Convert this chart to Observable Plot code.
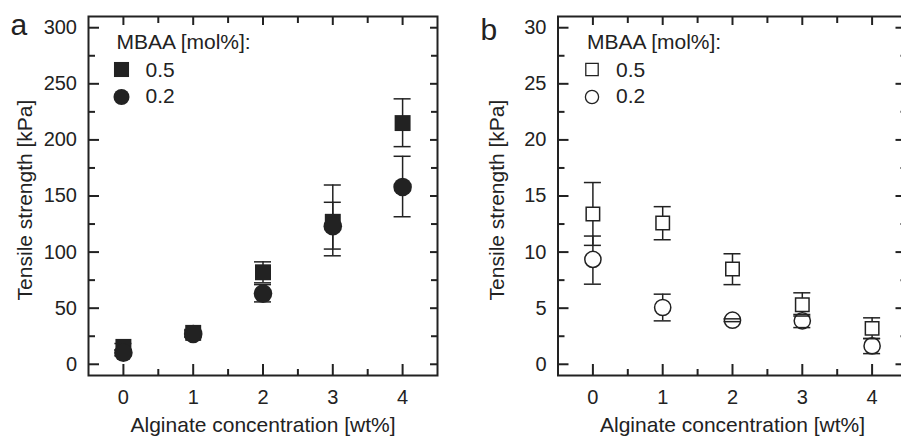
<!DOCTYPE html>
<html>
<head>
<meta charset="utf-8">
<script src="https://cdn.jsdelivr.net/npm/d3@7"></script>
<script src="https://cdn.jsdelivr.net/npm/@observablehq/plot@0.6"></script>
<style>
  html, body { margin: 0; padding: 0; background: #fff; }
  #wrap { position: relative; width: 901px; height: 440px; overflow: hidden; display: flex; flex-wrap: nowrap; }
  #wrap > div { flex: none; }
</style>
</head>
<body>
<div id="wrap"><div id="pa" style="width:450px"></div><div id="pb" style="width:460px"></div></div>
<script>
// ---- data ----
const conc = [0, 1, 2, 3, 4];
const seriesLabels = ["0.5", "0.2"];
const legendTitle = "MBAA [mol%]:";
const xTitle = "Alginate concentration [wt%]";
const yTitle = "Tensile strength [kPa]";

// panel a
const aSqY  = [15.5, 28, 82, 127, 215];
const aSqLo = [12.5, 25, 72.6, 96.7, 194];
const aSqHi = [18.5, 31, 91.3, 159.8, 236.6];
const aCiY  = [10.3, 27, 63, 123, 158];
const aCiLo = [7.5, 24, 55.6, 102.7, 131.5];
const aCiHi = [13, 30, 71, 144.4, 185.4];

// panel b
const bSqY  = [13.4, 12.6, 8.5, 5.3, 3.2];
const bSqLo = [10.6, 11.1, 7.1, 4.3, 2.3];
const bSqHi = [16.2, 14.05, 9.85, 6.37, 4.14];
const bCiY  = [9.35, 5.06, 3.93, 3.87, 1.64];
const bCiLo = [7.14, 3.87, 3.8, 3.27, 0.95];
const bCiHi = [11.43, 6.25, 4.05, 4.44, 2.29];

// tick labels
const xTicks = [0, 1, 2, 3, 4];
const xMinor = [0.5, 1.5, 2.5, 3.5];
const yTicksA = [0, 50, 100, 150, 200, 250, 300];
const yMinorA = [25, 75, 125, 175, 225, 275];
const yTicksB = [0, 5, 10, 15, 20, 25, 30];
const yMinorB = [2.5, 7.5, 12.5, 17.5, 22.5, 27.5];

// ---- helpers ----
const INK = "#222";
const FONT = "Liberation Sans, Arial, Helvetica, sans-serif";
const W = 349, H = 359;
const rows = (y, lo, hi) => conc.map((x, i) => ({x, y: y[i], lo: lo[i], hi: hi[i]}));
const fmt = d3.format("d");

function panel({letter, letterDx, letterDy, width, marginLeft, yDomain, yTicks, yMinor,
                sq, ci, filled, rightMajor, rightMinor, yTitleDx, legendDx, legendR}) {
  const marginRight = width - marginLeft - W;
  const capHalf = 0.122;
  const sqRows = rows(...sq), ciRows = rows(...ci);
  const errMarks = (d) => [
    Plot.ruleX(d, {x: "x", y1: "lo", y2: "hi", stroke: INK, strokeWidth: 1.5}),
  ];
  const capMarks = (d) => [
    Plot.ruleY(d, {y: "lo", x1: r => r.x - capHalf, x2: r => r.x + capHalf, stroke: INK, strokeWidth: 1.5}),
    Plot.ruleY(d, {y: "hi", x1: r => r.x - capHalf, x2: r => r.x + capHalf, stroke: INK, strokeWidth: 1.5})
  ];
  const dotStyle = filled
    ? {fill: INK, stroke: "none"}
    : {fill: "white", stroke: INK, strokeWidth: 1.5};
  const sqR = filled ? 9 : 7.6, ciR = filled ? 9.3 : 8.1;
  const markers = [
    Plot.dot(sqRows, {x: "x", y: "y", symbol: "square", r: sqR, ...dotStyle}),
    Plot.dot(ciRows, {x: "x", y: "y", symbol: "circle", r: ciR, ...dotStyle})
  ];
  const symbols = ["square", "circle"];
  const legend = [
    Plot.text([legendTitle], {frameAnchor: "top-left", dx: legendDx, dy: 32, lineAnchor: "bottom", textAnchor: "start", fontSize: 21, fill: INK})
  ];
  seriesLabels.forEach((lab, i) => {
    legend.push(Plot.dot([lab], {frameAnchor: "top-left", dx: legendDx + 5, dy: 53 + i * 27.5, symbol: symbols[i],
      r: legendR[i], ...(filled ? {fill: INK, stroke: "none"} : {fill: "white", stroke: INK, strokeWidth: 1.3})}));
    legend.push(Plot.text([lab], {frameAnchor: "top-left", dx: legendDx + 29, dy: 60 + i * 26.5, lineAnchor: "bottom", textAnchor: "start", fontSize: 21, fill: INK}));
  });

  return Plot.plot({
    width, height: 440,
    marginLeft, marginRight, marginTop: 16, marginBottom: 65,
    x: {domain: [-0.5, 4.5]},
    y: {domain: yDomain},
    style: {fontFamily: FONT, color: INK, background: "white", overflow: "visible"},
    marks: [
      // inward tick marks
      Plot.ruleX(xTicks, {x: d => d, insetTop: H - 11, stroke: INK, strokeWidth: 2}),
      Plot.ruleX(xMinor, {x: d => d, insetTop: H - 6, stroke: INK, strokeWidth: 2}),
      Plot.ruleX(xTicks, {x: d => d, insetBottom: H - 9, stroke: INK, strokeWidth: 2}),
      Plot.ruleX(xMinor, {x: d => d, insetBottom: H - 7, stroke: INK, strokeWidth: 2}),
      Plot.ruleY(yTicks, {y: d => d, insetRight: W - 11, stroke: INK, strokeWidth: 2}),
      Plot.ruleY(yMinor, {y: d => d, insetRight: W - 7, stroke: INK, strokeWidth: 2}),
      Plot.ruleY(yTicks, {y: d => d, insetLeft: W - rightMajor, stroke: INK, strokeWidth: 2}),
      Plot.ruleY(yMinor, {y: d => d, insetLeft: W - rightMinor, stroke: INK, strokeWidth: 2}),
      Plot.frame({stroke: INK, strokeWidth: 2}),
      Plot.axisX({ticks: xTicks, tickFormat: fmt, tickSize: 0, tickPadding: 14.5, fontSize: 20, fill: INK, label: null}),
      Plot.axisY({ticks: yTicks, tickFormat: fmt, tickSize: 0, tickPadding: 11.5, fontSize: 20, fill: INK, label: null}),
      Plot.text([xTitle], {frameAnchor: "bottom", dy: 56, lineAnchor: "bottom", textAnchor: "middle", fontSize: 21, fill: INK}),
      Plot.text([yTitle], {frameAnchor: "left", dx: yTitleDx, dy: 4, rotate: -90, lineAnchor: "bottom", textAnchor: "middle", fontSize: 21, fill: INK}),
      Plot.text([letter], {frameAnchor: "top-left", dx: letterDx, dy: letterDy, lineAnchor: "bottom", textAnchor: "start", fontSize: 30, fill: INK}),
      ...legend,
      ...errMarks(sqRows),
      ...errMarks(ciRows),
      ...(filled ? [...capMarks(sqRows), ...capMarks(ciRows), ...markers]
                 : [...markers, ...capMarks(sqRows), ...capMarks(ciRows)])
    ]
  });
}

document.getElementById("pa").append(panel({
  letter: "a", letterDx: -78, letterDy: 18, width: 450, marginLeft: 88,
  yDomain: [-10, 310], yTicks: yTicksA, yMinor: yMinorA,
  sq: [aSqY, aSqLo, aSqHi], ci: [aCiY, aCiLo, aCiHi], filled: true,
  rightMajor: 7, rightMinor: 6, yTitleDx: -57, legendDx: 28, legendR: [8.5, 8]
}));
document.getElementById("pb").append(panel({
  letter: "b", letterDx: -77.5, letterDy: 23, width: 460, marginLeft: 107.5,
  yDomain: [-1, 31], yTicks: yTicksB, yMinor: yMinorB,
  sq: [bSqY, bSqLo, bSqHi], ci: [bCiY, bCiLo, bCiHi], filled: false,
  rightMajor: 11, rightMinor: 6, yTitleDx: -54, legendDx: 29, legendR: [7, 6.6]
}));
</script>
</body>
</html>
